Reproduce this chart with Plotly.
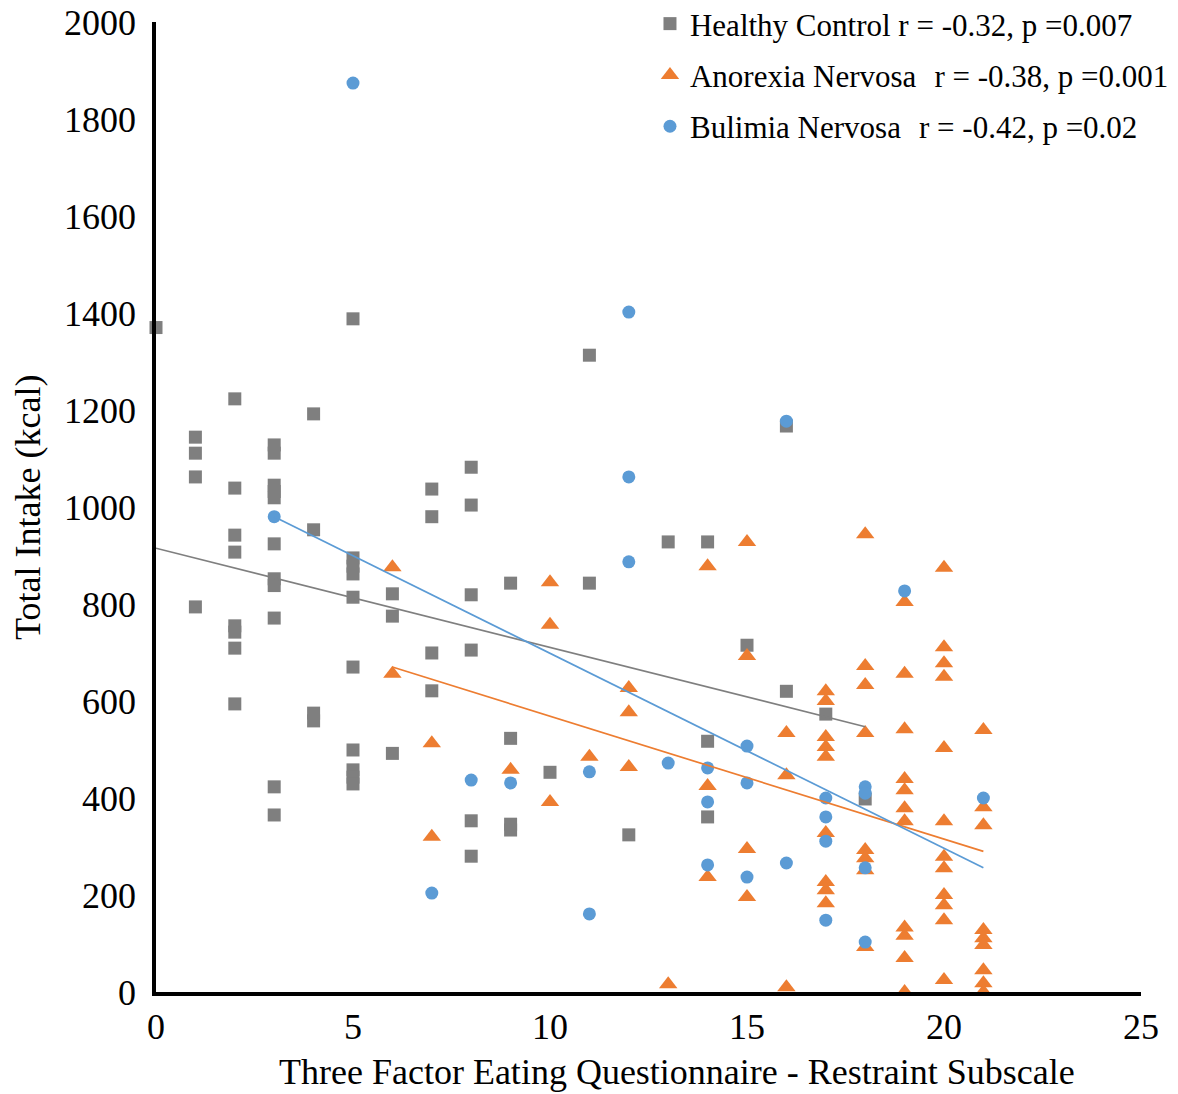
import plotly.graph_objects as go

# ---------------- data ----------------
hc_x = [0,
        1, 1, 1, 1,
        2, 2, 2, 2, 2, 2, 2, 2,
        3, 3, 3, 3, 3, 3, 3, 3, 3, 3, 3,
        4, 4, 4, 4,
        5, 5, 5, 5, 5, 5, 5, 5, 5, 5,
        6, 6, 6,
        7, 7, 7, 7,
        8, 8, 8, 8, 8, 8,
        9, 9, 9, 9,
        10,
        11, 11,
        12,
        13,
        14, 14, 14,
        15,
        16, 16,
        17,
        18]
hc_y = [1370,
        1144, 1111, 1062, 794,
        1223, 1039, 942, 907, 755, 742, 709, 594,
        1128, 1111, 1045, 1032, 1019, 924, 852, 838, 771, 423, 365,
        1192, 953, 575, 559,
        1388, 895, 878, 862, 814, 670, 499, 458, 443, 429,
        821, 775, 492,
        1037, 980, 699, 621,
        1082, 1004, 819, 705, 353, 280,
        843, 523, 346, 334,
        453,
        1313, 843,
        324,
        928,
        928, 517, 361,
        715,
        1167, 620,
        573,
        398]

an_x = [6, 6,
        7, 7,
        9,
        10, 10, 10,
        11,
        12, 12, 12,
        13,
        14, 14, 14,
        15, 15, 15, 15,
        16, 16, 16,
        17, 17, 17, 17, 17, 17, 17, 17, 17,
        18, 18, 18, 18, 18, 18, 18, 18,
        19, 19, 19, 19, 19, 19, 19, 19, 19, 19, 19,
        20, 20, 20, 20, 20, 20, 20, 20, 20, 20, 20, 20,
        21, 21, 21, 21, 21, 21, 21, 21, 21]
an_y = [876, 656,
        513, 320,
        458,
        845, 757, 392,
        485,
        627, 577, 464,
        16,
        878, 425, 237,
        928, 693, 295, 196,
        534, 447, 10,
        620, 600, 526, 505, 485, 328, 227, 210, 183,
        944, 672, 633, 534, 293, 276, 251, 93,
        804, 656, 542, 439, 416, 379, 352, 133, 116, 70, 0,
        875, 711, 678, 650, 503, 352, 279, 255, 200, 179, 148, 25,
        540, 381, 344, 128, 111, 97, 45, 18, 0]

bn_x = [3, 5, 7, 8, 9,
        11, 11,
        12, 12, 12,
        13,
        14, 14, 14,
        15, 15, 15,
        16, 16,
        17, 17, 17, 17,
        18, 18, 18, 18,
        19, 21]
bn_y = [980, 1874, 204, 437, 431,
        454, 161,
        1402, 1062, 887,
        472,
        462, 392, 262,
        507, 431, 237,
        1177, 266,
        400, 361, 311, 148,
        423, 410, 256, 103,
        827, 400]

# linear trendlines as drawn in the reference (start / end)
hc_trend_x = [0, 18]
hc_trend_y = [915, 547]
an_trend_x = [6, 21]
an_trend_y = [670, 290]
bn_trend_x = [3, 21]
bn_trend_y = [980, 256]

series_names = ["Healthy Control\u00a0r = -0.32, p =0.007",
                "Anorexia Nervosa\u00a0\u00a0\u200ar = -0.38, p =0.001",
                "Bulimia Nervosa\u00a0\u00a0\u200ar = -0.42, p =0.02"]
x_ticks = [0, 5, 10, 15, 20, 25]
y_ticks = [0, 200, 400, 600, 800, 1000, 1200, 1400, 1600, 1800, 2000]

# ---------------- styling ----------------
GRAY = "#7F7F7F"
ORANGE = "#ED7D31"
BLUE = "#5B9BD5"
FONT = "Liberation Serif"

fig = go.Figure()

fig.add_trace(go.Scatter(x=hc_x, y=hc_y, mode="markers", name=series_names[0],
                         marker=dict(symbol="square", size=13, color=GRAY),
                         cliponaxis=False, legendgroup="hc"))
fig.add_trace(go.Scatter(x=an_x, y=an_y, mode="markers", name=series_names[1],
                         marker=dict(symbol="triangle-up", size=16, color=ORANGE),
                         cliponaxis=False, legendgroup="an"))
fig.add_trace(go.Scatter(x=bn_x, y=bn_y, mode="markers", name=series_names[2],
                         marker=dict(symbol="circle", size=13, color=BLUE),
                         cliponaxis=False, legendgroup="bn"))

for tx, ty, col in [(hc_trend_x, hc_trend_y, GRAY),
                    (an_trend_x, an_trend_y, ORANGE),
                    (bn_trend_x, bn_trend_y, BLUE)]:
    fig.add_trace(go.Scatter(x=tx, y=ty, mode="lines", showlegend=False,
                             line=dict(color=col, width=1.7), hoverinfo="skip"))

axis_common = dict(showgrid=False, zeroline=False, showline=True,
                   linecolor="black", linewidth=3.5, mirror=False,
                   ticks="outside", tickcolor="rgba(0,0,0,0)",
                   ticklabeloverflow="allow",
                   tickfont=dict(family=FONT, size=36, color="black"))

fig.update_layout(
    width=1170, height=1086,
    margin=dict(l=148, r=37, t=14, b=102, autoexpand=False),
    paper_bgcolor="white", plot_bgcolor="white",
    font=dict(family=FONT, color="black"),
    xaxis=dict(range=[0, 25], tickvals=x_ticks, ticklen=0, **axis_common),
    yaxis=dict(range=[0, 2000], tickvals=y_ticks, ticklen=9, **axis_common),
    legend=dict(x=0.5015, y=1.0258, xanchor="left", yanchor="top",
                font=dict(family=FONT, size=31, color="black"),
                bgcolor="rgba(0,0,0,0)", traceorder="grouped",
                tracegroupgap=8, itemsizing="trace"),
    showlegend=True,
    annotations=[
        dict(text="Three Factor Eating Questionnaire - Restraint Subscale",
             xref="paper", yref="paper", x=0.529, y=-0.0825,
             xanchor="center", yanchor="middle", showarrow=False,
             font=dict(family=FONT, size=36, color="black")),
        dict(text="Total Intake (kcal)", textangle=-90,
             xref="paper", yref="paper", x=-0.130, y=0.5,
             xanchor="center", yanchor="middle", showarrow=False,
             font=dict(family=FONT, size=36, color="black")),
    ],
)

fig.write_html("out.html")
